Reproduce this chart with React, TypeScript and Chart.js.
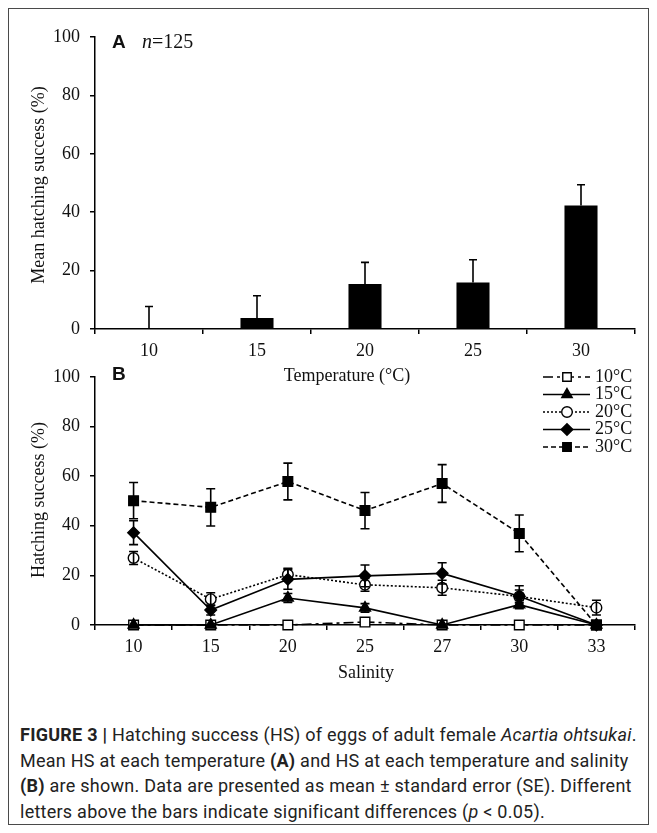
import React, { useEffect, useRef } from "react";
import { Chart, registerables } from "chart.js";

Chart.register(...registerables);

// ---------- Data ----------
const temperatureLabels = ["10", "15", "20", "25", "30"];
const meanHatching = [0, 3.8, 15.4, 15.9, 42.3];
const meanHatchingSE = [7.7, 7.6, 7.4, 7.8, 7.1];

const salinityLabels = ["10", "15", "20", "25", "27", "30", "33"];
const hs10C = [0, 0, 0, 1.2, 0, 0, 0];
const hs10CSE = [0, 0, 0, 0, 0, 0, 0];
const hs15C = [0, 0, 10.9, 6.9, 0, 8.2, 0];
const hs15CSE = [0, 0, 1.8, 1.7, 0, 1.6, 0];
const hs20C = [27.0, 10.4, 20.3, 16.2, 15.0, 11.5, 7.0];
const hs20CSE = [2.6, 2.6, 2.5, 2.6, 3.0, 2.6, 3.0];
const hs25C = [37.2, 6.0, 18.4, 19.8, 20.8, 11.6, 0];
const hs25CSE = [4.8, 2.0, 4.0, 4.4, 4.3, 4.2, 0];
const hs30C = [50.1, 47.4, 57.8, 46.1, 57.0, 36.9, 0];
const hs30CSE = [7.3, 7.5, 7.4, 7.3, 7.6, 7.4, 0];

const seriesNames = ["10°C", "15°C", "20°C", "25°C", "30°C"];

const yMin = 0;
const yMax = 100;
const yStep = 20;

// ---------- Helpers ----------
const SERIF = '"Liberation Serif", "Times New Roman", serif';
const SANS = '"Liberation Sans", Arial, sans-serif';

type Style = { dash: number[]; shape: string; radius: number; fill: string };
const seriesStyles: Style[] = [
  { dash: [10, 4, 3, 4], shape: "rect", radius: 6.8, fill: "#ffffff" },
  { dash: [], shape: "triangle", radius: 6.3, fill: "#000000" },
  { dash: [2, 2], shape: "circle", radius: 5.3, fill: "#ffffff" },
  { dash: [], shape: "rectRot", radius: 5.8, fill: "#000000" },
  { dash: [5, 3], shape: "rect", radius: 6.8, fill: "#000000" },
];

function drawMarker(ctx: CanvasRenderingContext2D, shape: string, x: number, y: number, r: number, fill: string) {
  ctx.save();
  ctx.setLineDash([]);
  ctx.lineWidth = 1.4;
  ctx.strokeStyle = "#000";
  ctx.fillStyle = fill;
  ctx.beginPath();
  if (shape === "rect") {
    const s = Math.SQRT1_2 * r;
    ctx.rect(x - s, y - s, 2 * s, 2 * s);
  } else if (shape === "circle") {
    ctx.arc(x, y, r, 0, Math.PI * 2);
  } else if (shape === "triangle") {
    ctx.moveTo(x, y - r);
    ctx.lineTo(x + r * 0.866, y + r * 0.5);
    ctx.lineTo(x - r * 0.866, y + r * 0.5);
    ctx.closePath();
  } else if (shape === "rectRot") {
    ctx.moveTo(x, y - r);
    ctx.lineTo(x + r, y);
    ctx.lineTo(x, y + r);
    ctx.lineTo(x - r, y);
    ctx.closePath();
  }
  ctx.fill();
  ctx.stroke();
  ctx.restore();
}

function drawErrorBars(chart: any, capHalf: number, upOnly: boolean) {
  const ctx: CanvasRenderingContext2D = chart.ctx;
  const ys = chart.scales.y;
  chart.data.datasets.forEach((ds: any, i: number) => {
    const errs: number[] | undefined = ds.errors;
    if (!errs) return;
    const meta = chart.getDatasetMeta(i);
    meta.data.forEach((el: any, j: number) => {
      const v = ds.data[j] as number;
      const e = errs[j];
      if (!e) return;
      const x = el.x;
      const yTop = ys.getPixelForValue(v + e);
      const yBot = upOnly ? ys.getPixelForValue(v) : ys.getPixelForValue(v - e);
      ctx.save();
      ctx.strokeStyle = "#000";
      ctx.lineWidth = 1.6;
      ctx.setLineDash([]);
      ctx.beginPath();
      ctx.moveTo(x, yTop);
      ctx.lineTo(x, yBot);
      ctx.moveTo(x - capHalf, yTop);
      ctx.lineTo(x + capHalf, yTop);
      if (!upOnly) {
        ctx.moveTo(x - capHalf, yBot);
        ctx.lineTo(x + capHalf, yBot);
      }
      ctx.stroke();
      ctx.restore();
    });
  });
}

function text(ctx: CanvasRenderingContext2D, s: string, x: number, y: number, font: string, align: CanvasTextAlign = "left", rot = 0) {
  ctx.save();
  ctx.fillStyle = "#111";
  ctx.font = font;
  ctx.textAlign = align;
  ctx.textBaseline = "middle";
  ctx.translate(x, y);
  if (rot) ctx.rotate(rot);
  ctx.fillText(s, 0, 0);
  ctx.restore();
}

function axisCommon() {
  return {
    grid: {
      drawOnChartArea: false,
      drawTicks: true,
      tickLength: 5,
      color: "#000",
      lineWidth: 1.5,
    },
    border: { display: true, color: "#000", width: 1.5 },
  };
}

// canvas geometry (relative to framed box content origin at page 9,9)
const W = 639;
const A_TOP = 0; // page 9
const A_H = 381;
const B_TOP = 347; // page 356
const B_H = 334;

export default function App() {
  const refA = useRef<HTMLCanvasElement>(null);
  const refB = useRef<HTMLCanvasElement>(null);

  useEffect(() => {
    const tickFont = { family: SERIF, size: 18 };

    const chartA = new Chart(refA.current!, {
      type: "bar",
      data: {
        labels: temperatureLabels,
        datasets: [
          {
            data: meanHatching,
            backgroundColor: "#000",
            borderWidth: 0,
            barPercentage: 0.306,
            categoryPercentage: 1,
            errors: meanHatchingSE,
          } as any,
        ],
      },
      options: {
        animation: false,
        responsive: false,
        maintainAspectRatio: false,
        events: [],
        layout: { padding: { left: 0, top: 28, right: 13, bottom: 0 } },
        plugins: { legend: { display: false }, tooltip: { enabled: false } },
        scales: {
          x: {
            ...axisCommon(),
            offset: true,
            grid: { ...axisCommon().grid, offset: true },
            ticks: { font: tickFont, color: "#111", padding: 6, maxRotation: 0 },
            afterFit: (s: any) => {
              s.height = A_H - (329 - 9);
            },
          } as any,
          y: {
            ...axisCommon(),
            min: yMin,
            max: yMax,
            ticks: { stepSize: yStep, font: tickFont, color: "#111", padding: 10 },
            afterFit: (s: any) => {
              s.width = 95 - 9;
            },
          } as any,
        },
      },
      plugins: [
        {
          id: "decorA",
          afterDatasetsDraw(chart: any) {
            drawErrorBars(chart, 4, true);
          },
          afterDraw(chart: any) {
            const ctx = chart.ctx as CanvasRenderingContext2D;
            text(ctx, "A", 112 - 9, 43 - 9, `bold 19px ${SANS}`);
            ctx.save();
            ctx.font = `italic 20px ${SERIF}`;
            const nW = ctx.measureText("n").width;
            ctx.restore();
            text(ctx, "n", 142 - 9, 43 - 9, `italic 20px ${SERIF}`);
            text(ctx, "=125", 142 - 9 + nW, 43 - 9, `20px ${SERIF}`);
            text(ctx, "Mean hatching success (%)", 39 - 9, 185 - 9, `18px ${SERIF}`, "center", -Math.PI / 2);
            text(ctx, "Temperature (°C)", 347 - 9, 376 - 9, `18px ${SERIF}`, "center");
          },
        },
      ],
    } as any);

    const datasetsB = [
      [hs10C, hs10CSE],
      [hs15C, hs15CSE],
      [hs20C, hs20CSE],
      [hs25C, hs25CSE],
      [hs30C, hs30CSE],
    ].map(([vals, errs], i) => {
      const st = seriesStyles[i];
      return {
        label: seriesNames[i],
        data: vals,
        errors: errs,
        borderColor: "#000",
        borderWidth: 1.6,
        borderDash: st.dash,
        pointStyle: st.shape,
        pointRadius: st.radius,
        pointBackgroundColor: st.fill,
        pointBorderColor: "#000",
        pointBorderWidth: 1.4,
        fill: false,
        tension: 0,
        clip: false,
        order: 4 - i,
      } as any;
    });

    const chartB = new Chart(refB.current!, {
      type: "line",
      data: { labels: salinityLabels, datasets: datasetsB },
      options: {
        animation: false,
        responsive: false,
        maintainAspectRatio: false,
        events: [],
        layout: { padding: { left: 0, top: 374 - 356, right: 13, bottom: 0 } },
        plugins: { legend: { display: false }, tooltip: { enabled: false } },
        scales: {
          x: {
            ...axisCommon(),
            offset: true,
            grid: { ...axisCommon().grid, offset: true },
            ticks: { font: tickFont, color: "#111", padding: 6, maxRotation: 0 },
            afterFit: (s: any) => {
              s.height = B_H - (625 - 356);
            },
          } as any,
          y: {
            ...axisCommon(),
            min: yMin,
            max: yMax,
            ticks: { stepSize: yStep, font: tickFont, color: "#111", padding: 10 },
            afterFit: (s: any) => {
              s.width = 95 - 9;
            },
          } as any,
        },
      },
      plugins: [
        {
          id: "decorB",
          afterDatasetsDraw(chart: any) {
            drawErrorBars(chart, 4.5, false);
          },
          afterDraw(chart: any) {
            const ctx = chart.ctx as CanvasRenderingContext2D;
            const oy = 356;
            const ox = 9;
            text(ctx, "B", 112 - ox, 375 - oy, `bold 19px ${SANS}`);
            text(ctx, "Hatching success (%)", 39 - ox, 500 - oy, `18px ${SERIF}`, "center", -Math.PI / 2);
            text(ctx, "Salinity", 366 - ox, 673 - oy, `18px ${SERIF}`, "center");
            // legend
            const rowsY = [377, 394.5, 412, 429.5, 447];
            seriesNames.forEach((name, i) => {
              const st = seriesStyles[i];
              const y = rowsY[i] - oy;
              ctx.save();
              ctx.strokeStyle = "#000";
              ctx.lineWidth = 1.6;
              ctx.setLineDash(st.dash);
              ctx.beginPath();
              ctx.moveTo(543 - ox, y);
              ctx.lineTo(590 - ox, y);
              ctx.stroke();
              ctx.restore();
              drawMarker(ctx, st.shape, 567 - ox, y, Math.min(st.radius, 6), st.fill);
              text(ctx, name, 595 - ox, y, `18px ${SERIF}`);
            });
          },
        },
      ],
    } as any);

    return () => {
      chartA.destroy();
      chartB.destroy();
    };
  }, []);

  return (
    <div
      style={{
        position: "relative",
        width: 639,
        height: 815,
        border: "1px solid #4a4a4a",
        background: "#fff",
        overflow: "hidden",
      }}
    >
      <canvas
        ref={refA}
        width={W}
        height={A_H}
        style={{ position: "absolute", left: 0, top: A_TOP, width: W, height: A_H }}
      />
      <canvas
        ref={refB}
        width={W}
        height={B_H}
        style={{ position: "absolute", left: 0, top: B_TOP, width: W, height: B_H }}
      />
      <div
        style={{
          position: "absolute",
          left: 11,
          top: 713,
          fontFamily: 'Roboto, "Liberation Sans", Arial, sans-serif',
          fontSize: 18,
          lineHeight: "25.5px",
          letterSpacing: "0.25px",
          color: "#222",
          whiteSpace: "nowrap",
        }}
      >
        <div>
          <b>FIGURE 3 |</b> Hatching success (HS) of eggs of adult female <i>Acartia ohtsukai</i>.
        </div>
        <div>
          Mean HS at each temperature <b>(A)</b> and HS at each temperature and salinity
        </div>
        <div>
          <b>(B)</b> are shown. Data are presented as mean ± standard error (SE). Different
        </div>
        <div>
          letters above the bars indicate significant differences (<i>p</i> &lt; 0.05).
        </div>
      </div>
    </div>
  );
}
